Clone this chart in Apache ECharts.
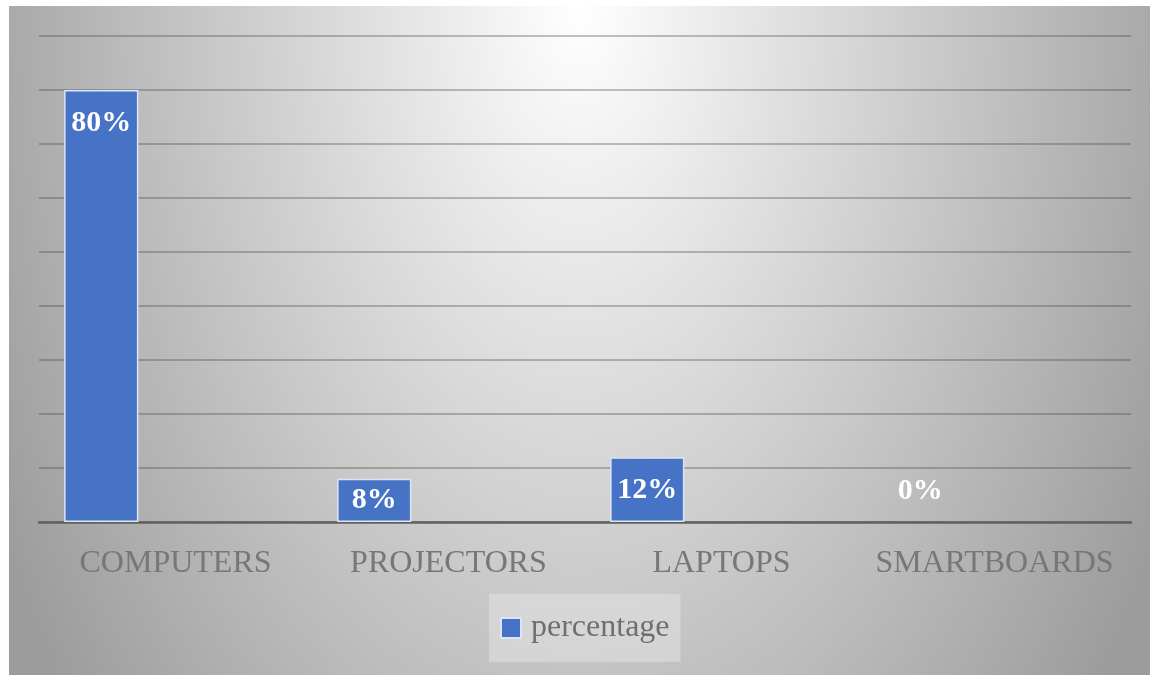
<!DOCTYPE html>
<html>
<head>
<meta charset="utf-8">
<script src="https://cdn.jsdelivr.net/npm/echarts@6/dist/echarts.min.js"></script>
<style>
  html, body { margin: 0; padding: 0; background: #ffffff; }
  #bg { position: absolute; left: 9px; top: 6px; right: 0; bottom: 0;
        background: radial-gradient(ellipse 660px 1100px at 50% 0%, #ffffff 0%, #9c9c9c 100%); }
  #chart { position: absolute; left: 0; top: 0; width: 1150px; height: 675px; }
</style>
</head>
<body>
<div id="bg"></div>
<div id="chart"></div>
<script>
const categories = ['COMPUTERS', 'PROJECTORS', 'LAPTOPS', 'SMARTBOARDS'];
const seriesName = 'percentage';
const percentage = [80, 8, 12, 0];
const yMin = 0, yMax = 90, yStep = 10;

const chart = echarts.init(document.getElementById('chart'), null, { renderer: 'canvas' });

function labelFor(v) {
  const base = { show: true, formatter: '{c}%', color: '#ffffff', fontFamily: 'Liberation Serif', fontWeight: 'bold', fontSize: 30 };
  if (v === 0) return Object.assign(base, { position: 'top', distance: 16 });
  if (v < 10) return Object.assign(base, { position: 'inside' });
  return Object.assign(base, { position: 'insideTop', distance: 18 });
}

const option = {
  animation: false,
  backgroundColor: 'transparent',
  grid: { left: 39, right: 19, top: 36, bottom: 153, containLabel: false },
  legend: {
    data: [seriesName],
    bottom: 13,
    left: 489,
    backgroundColor: 'rgba(225,225,225,0.55)',
    padding: [18, 11, 18, 11],
    itemWidth: 20, itemHeight: 20,
    icon: 'rect',
    textStyle: { fontFamily: 'Liberation Serif', fontSize: 32, color: '#6f6f6f', padding: [0, 0, 0, 5] }
  },
  xAxis: {
    type: 'category',
    data: categories,
    axisLine: { show: true, lineStyle: { color: '#606060', width: 2.5 } },
    axisTick: { show: false },
    axisLabel: { interval: 0, fontFamily: 'Liberation Serif', fontSize: 32, color: '#777777', margin: 26 }
  },
  yAxis: {
    type: 'value',
    min: yMin, max: yMax, interval: yStep,
    axisLabel: { show: false },
    axisLine: { show: false },
    axisTick: { show: false },
    splitLine: { show: true, lineStyle: { color: 'rgba(70,70,70,0.45)', width: 1.5 } }
  },
  series: [
    {
      name: seriesName,
      type: 'bar',
      barGap: '0%',
      barCategoryGap: '18.4%',
      itemStyle: { color: '#4673C5', borderColor: '#dbe5f6', borderWidth: 1.5 },
      data: percentage.map(v => ({ value: v, label: labelFor(v), itemStyle: v === 0 ? { borderWidth: 0 } : {} }))
    },
    { name: 'spacer1', type: 'bar', barGap: '0%', data: percentage.map(() => '-') },
    { name: 'spacer2', type: 'bar', barGap: '0%', data: percentage.map(() => '-') }
  ]
};
chart.setOption(option);
</script>
</body>
</html>
